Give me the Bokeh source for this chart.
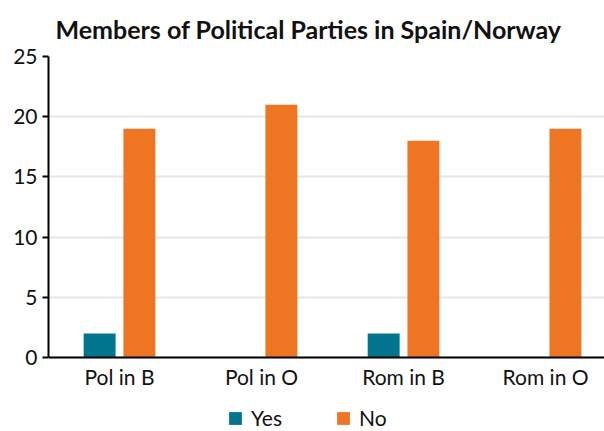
import numpy as np
from bokeh.plotting import figure
from bokeh.models import ColumnDataSource, Range1d, FixedTicker, Legend, LegendItem
from bokeh.transform import dodge
from bokeh.embed import file_html
from bokeh.resources import INLINE

categories = ["Pol in B", "Pol in O", "Rom in B", "Rom in O"]
yes_values = [2, 0, 2, 0]
no_values = [19, 21, 18, 19]
y_ticks = [0, 5, 10, 15, 20, 25]
series_names = ["Yes", "No"]

FONT = "Lato"
YES_COLOR = "#02758F"
NO_COLOR = "#EE7623"

xpos = list(range(len(categories)))
src = ColumnDataSource(dict(x=xpos, yes=yes_values, no=no_values))

# frame extends to the bottom of the canvas; the value axis is drawn at y = 0
p = figure(width=604, height=431,
           min_border_left=48, min_border_right=0, min_border_top=56, min_border_bottom=0,
           output_backend="svg", toolbar_location=None,
           x_range=Range1d(-0.5, 3.415), y_range=Range1d(-6.15, 25),
           title="Members of Political Parties in Spain/Norway")

p.title.align = "left"
p.title.offset = 7
p.title.text_font = FONT
p.title.text_font_size = "25px"
p.title.text_font_style = "bold"
p.title.text_color = "#111111"
p.title.text_line_height = 1.0
p.title.vertical_align = "middle"
p.title.standoff = 23

r_yes = p.vbar(x=dodge("x", -0.14), top="yes", width=0.225, source=src,
               fill_color=YES_COLOR, line_color=None)
r_no = p.vbar(x=dodge("x", 0.14), top="no", width=0.225, source=src,
              fill_color=NO_COLOR, line_color=None)

p.outline_line_color = None
p.xgrid.grid_line_color = None
p.ygrid.grid_line_color = "#e6e6e6"
p.ygrid.grid_line_width = 2
p.ygrid.ticker = FixedTicker(ticks=y_ticks)

xa = p.xaxis[0]
xa.fixed_location = 0
xa.ticker = FixedTicker(ticks=xpos)
xa.major_label_overrides = {i: c for i, c in enumerate(categories)}
xa.major_tick_line_color = None
xa.major_tick_out = 0
xa.major_tick_in = 0
xa.minor_tick_line_color = None
xa.axis_line_width = 2
xa.axis_line_color = "black"
xa.major_label_text_font = FONT
xa.major_label_text_font_size = "21px"
xa.major_label_text_color = "#111111"
xa.major_label_standoff = 7

ya = p.yaxis[0]
ya.bounds = (0, 25)
ya.ticker = FixedTicker(ticks=y_ticks)
ya.minor_tick_line_color = None
ya.major_tick_in = 0
ya.major_tick_out = 6
ya.major_tick_line_width = 2
ya.axis_line_width = 2
ya.axis_line_color = "black"
ya.major_label_text_font = FONT
ya.major_label_text_font_size = "21px"
ya.major_label_text_color = "#111111"
ya.major_label_standoff = 5

legend = Legend(items=[LegendItem(label=series_names[0], renderers=[r_yes]),
                       LegendItem(label=series_names[1], renderers=[r_no])],
                orientation="horizontal", location=(179, 1),
                glyph_width=16, glyph_height=16, label_standoff=8, spacing=53,
                label_text_font=FONT, label_text_font_size="21px", label_text_color="#111111",
                border_line_color=None, background_fill_alpha=0,
                padding=0, margin=0)
p.add_layout(legend, "center")

open("out.html", "w").write(file_html(p, INLINE))
